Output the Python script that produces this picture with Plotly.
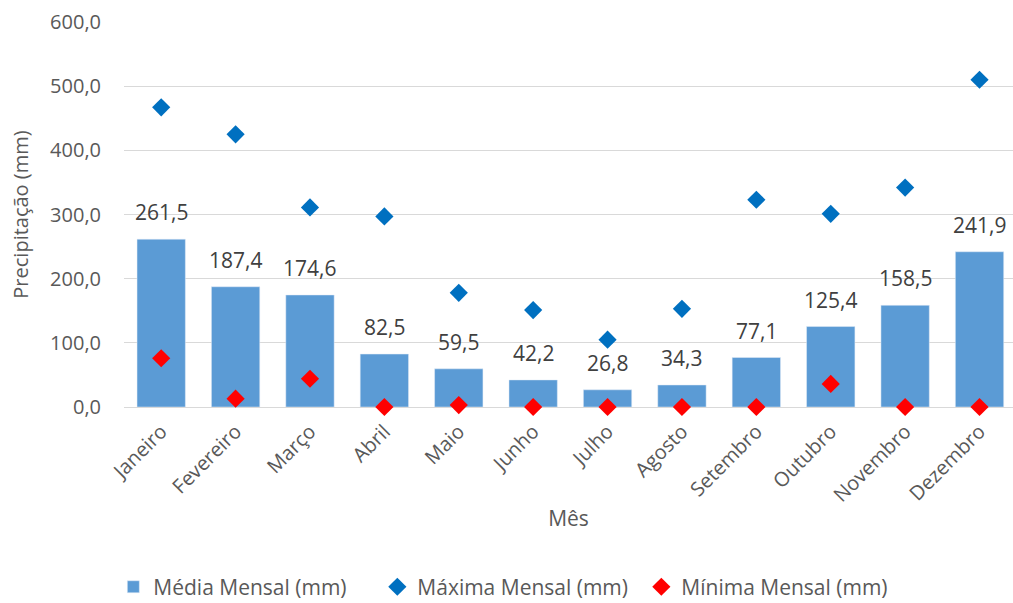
import plotly.graph_objects as go

meses = ["Janeiro", "Fevereiro", "Março", "Abril", "Maio", "Junho", "Julho",
         "Agosto", "Setembro", "Outubro", "Novembro", "Dezembro"]
media = [261.5, 187.4, 174.6, 82.5, 59.5, 42.2, 26.8, 34.3, 77.1, 125.4, 158.5, 241.9]
maxima = [467, 425, 311, 297, 178, 151, 105, 153, 323, 301, 342, 510]
minima = [76, 13, 44, 0, 3, 0, 0, 0, 0, 36, 0, 0]
y_ticks = [0, 100, 200, 300, 400, 500, 600]

FONT = "Open Sans"
GRAY = "#595959"

fig = go.Figure()
fig.add_trace(go.Bar(
    x=meses, y=media, name="Média Mensal (mm)",
    marker=dict(color="#5B9BD5"),
))
fig.add_trace(go.Scatter(
    x=meses, y=maxima, name="Máxima Mensal (mm)", mode="markers",
    marker=dict(symbol="diamond", size=14, color="#0070C0"),
    cliponaxis=False,
))
fig.add_trace(go.Scatter(
    x=meses, y=minima, name="Mínima Mensal (mm)", mode="markers",
    marker=dict(symbol="diamond", size=14, color="#FF0000"),
    cliponaxis=False,
))

for m, v in zip(meses, media):
    fig.add_annotation(
        x=m, y=v, text=f"{v:.1f}".replace(".", ","), showarrow=False,
        yanchor="bottom", yshift=11,
        font=dict(size=21, color="#404040", family=FONT),
    )

fig.update_layout(
    width=1013, height=603,
    margin=dict(l=124, r=0, t=22, b=196, autoexpand=False),
    paper_bgcolor="white", plot_bgcolor="white",
    separators=",.",
    bargap=0.35,
    font=dict(family=FONT, color=GRAY, size=20),
    showlegend=True,
    legend=dict(orientation="h", x=-0.012, xanchor="left", y=-0.521, yanchor="bottom",
                font=dict(size=21, color=GRAY), itemwidth=30,
                entrywidth=219, entrywidthmode="pixels"),
    xaxis=dict(
        range=[-0.5, 11.45], tickangle=-45, automargin=False,
        tickfont=dict(size=20, color=GRAY), ticklabelstandoff=8,
        title=dict(text="Mês", font=dict(size=21, color=GRAY), standoff=4),
        showgrid=False, showline=False, ticks="",
    ),
    yaxis=dict(
        range=[0, 600], tickvals=y_ticks, tickformat=".1f", automargin=False,
        tickfont=dict(size=20, color=GRAY), ticklabelstandoff=22,
        title=dict(text="Precipitação (mm)", font=dict(size=20, color=GRAY), standoff=16),
        showgrid=True, gridcolor="#D9D9D9", gridwidth=1,
        zeroline=True, zerolinecolor="#D9D9D9", zerolinewidth=1,
        showline=False, ticks="", ticklen=0,
    ),
)

fig.write_html("out.html", config={"displayModeBar": False},
               post_script="document.body.style.margin='0';document.body.style.overflow='hidden';")
